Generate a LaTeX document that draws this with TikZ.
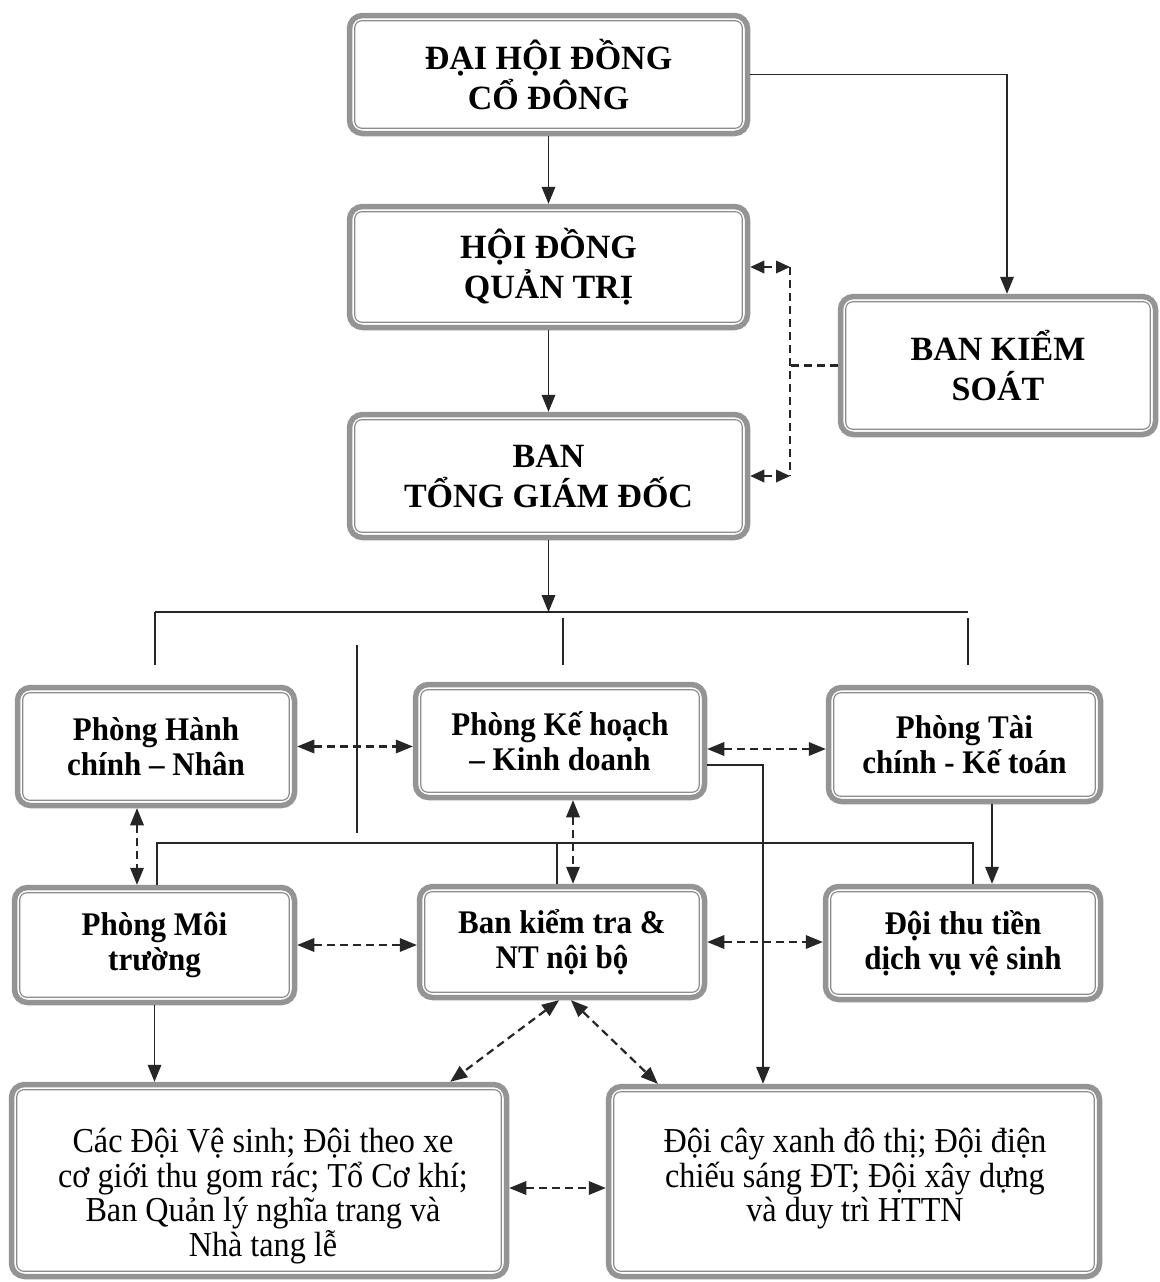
\documentclass[tikz,border=0pt]{standalone}
\usepackage{fontspec}
\setmainfont{Liberation Serif}
\newfontfamily\rowfont[FakeStretch=0.94]{Liberation Serif}
\newfontfamily\botfont[FakeStretch=0.92]{Liberation Serif}
\usetikzlibrary{arrows.meta,calc}
\begin{document}
\begin{tikzpicture}[x=1pt,y=-1pt,
  box/.style={draw=black!42, line width=5.5pt, rounded corners=13pt, fill=white, align=center, inner sep=0pt},
  topt/.style={font=\bfseries\fontsize{34}{40}\selectfont},
  rowt/.style={font=\rowfont\bfseries\fontsize{33}{35}\selectfont},
  bott/.style={font=\botfont\fontsize{35}{34.5}\selectfont, align=center, inner sep=0pt, anchor=north},
  inframe/.style={draw=black!45, line width=1.2pt, rounded corners=7pt},
  conn/.style={line width=1.8pt, draw=black!85},
  tip/.tip={Triangle[length=17pt,width=14pt,line width=0pt]},
  smalltip/.tip={Triangle[length=14pt,width=13pt,line width=0pt]},
  arr/.style={conn, -tip},
  dashl/.style={conn, line width=2.2pt, dash pattern=on 8pt off 5pt},
  dash2/.style={dashl, tip-tip},
  dash2s/.style={dashl, smalltip-smalltip}
]
\fill[white] (0,0) rectangle (1159,1282);
\useasboundingbox (0,0) rectangle (1159,1282);

% boxes
\node[box, topt, minimum width=398, minimum height=118] (DH) at (548.5,74.5) {ĐẠI HỘI ĐỒNG\\CỔ ĐÔNG};
\node[box, topt, minimum width=398, minimum height=121] (HD) at (548.5,267) {HỘI ĐỒNG\\QUẢN TRỊ};
\node[box, topt, minimum width=398, minimum height=123] (BT) at (548.5,476) {BAN\\TỔNG GIÁM ĐỐC};
\node[box, topt, minimum width=315, minimum height=138] (BKS) at (998,365.5) {BAN KIỂM\\SOÁT};

\node[box, rowt, minimum width=277, minimum height=118] (PHC) at (156,746.5) {Phòng Hành\\chính – Nhân};
\node[box, rowt, minimum width=289, minimum height=113] (PKH) at (560,741) {Phòng Kế hoạch\\– Kinh doanh};
\node[box, rowt, minimum width=272, minimum height=114] (PTC) at (964.5,744.5) {Phòng Tài\\chính - Kế toán};

\node[box, rowt, minimum width=280, minimum height=115] (PMT) at (154.5,945) {Phòng Môi\\trường};
\node[box, rowt, minimum width=285, minimum height=111] (BKT) at (562,942) {Ban kiểm tra \&\\NT nội bộ};
\node[box, rowt, minimum width=275, minimum height=113] (DTT) at (963,943) {Đội thu tiền\\dịch vụ vệ sinh};

\node[box, minimum width=495, minimum height=192] (BL) at (259,1180.5) {};
\node[box, minimum width=491, minimum height=190] (BR) at (854,1181.5) {};
\node[bott] (BLt) at (263,1128) {Các Đội Vệ sinh; Đội theo xe\\cơ giới thu gom rác; Tổ Cơ khí;\\Ban Quản lý nghĩa trang và\\Nhà tang lễ};
\node[bott] (BRt) at (855,1128) {Đội cây xanh đô thị; Đội điện\\chiếu sáng ĐT; Đội xây dựng\\và duy trì HTTN};

% inner frames
\foreach \n in {DH,HD,BT,BKS,PHC,PKH,PTC,PMT,BKT,DTT,BL,BR}
  \draw[inframe] ([shift={(8pt,8pt)}]\n.south west) rectangle ([shift={(-8pt,-8pt)}]\n.north east);

% top connectors
\draw[arr] (DH.south) -- (HD.north);
\draw[arr] (HD.south) -- (BT.north);
\draw[arr] (DH.east) -| ([xshift=9pt]BKS.north);

\coordinate (kx) at (790,372);
\draw[dash2s] (HD.east) -- (HD.east -| kx);
\draw[dash2s] (BT.east) -- (BT.east -| kx);
\draw[dashl] (HD.east -| kx) -- (BT.east -| kx);
\draw[dashl] (BKS.west) -- (BKS.west -| kx);

% bus
\coordinate (busL) at (155,612);
\coordinate (busR) at (968,612);
\coordinate (busM) at (563,612);
\coordinate (dropL) at (155,665);
\coordinate (dropM) at (563,665);
\coordinate (dropR) at (968,665);
\draw[arr] (BT.south) -- (BT.south |- busL);
\draw[conn, line width=2.4pt] (busL) -- (busR);
\draw[conn] (busL) -- (dropL);
\draw[conn] ([yshift=-6pt]busM) -- (dropM);
\draw[conn] ([yshift=-6pt]busR) -- (dropR);
\coordinate (s1) at (357,645);
\coordinate (s2) at (357,833);
\draw[conn] (s1) -- (s2);

% row 2 connections
\draw[dash2] (PHC.east) -- (PHC.east -| PKH.west);
\draw[dash2] ([yshift=-8pt]PKH.east) -- ([yshift=-8pt]PKH.east -| PTC.west);
\draw[arr] ([yshift=-24pt]PKH.east) -| ([xshift=-91pt]BR.north);
\draw[arr] ([xshift=27.5pt]PTC.south) -- ([xshift=27.5pt]PTC.south |- DTT.north);

% second bar
\coordinate (b2) at (0,843);
\draw[conn, line width=2.2pt] ([xshift=2.5pt]PMT.north) -- ([xshift=2.5pt]PMT.north |- b2) -- ([xshift=10pt]DTT.north |- b2) -- ([xshift=10pt]DTT.north);
\draw[conn] ([xshift=-5pt]BKT.north) -- ([xshift=-5pt]BKT.north |- b2);
\draw[dash2] ([xshift=-19pt]PHC.south) -- ([xshift=-19pt]PHC.south |- PMT.north);
\draw[dash2] ([xshift=13pt]PKH.south) -- ([xshift=13pt]PKH.south |- BKT.north);

% row 3 connections
\draw[dash2] (PMT.east) -- (PMT.east -| BKT.west);
\draw[dash2] (BKT.east) -- (BKT.east -| DTT.west);
\draw[arr] (PMT.south) -- (PMT.south |- BL.north);
\draw[dash2] ([xshift=-3pt]BKT.south) -- ([xshift=-59pt]BL.north east);
\draw[dash2] ([xshift=9pt]BKT.south) -- ([xshift=52pt]BR.north west);
\draw[dash2] ([yshift=-7.5pt]BL.east) -- ([yshift=-7.5pt]BL.east -| BR.west);
\end{tikzpicture}
\end{document}
